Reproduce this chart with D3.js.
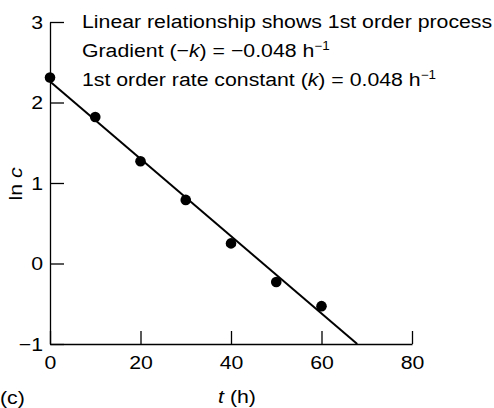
<!DOCTYPE html>
<html><head><meta charset="utf-8">
<script src="https://cdn.jsdelivr.net/npm/d3@7"></script>
<style>
body{margin:0;background:#fff;}
svg{display:block;font-family:"Liberation Sans",Arial,Helvetica,sans-serif;}
</style></head>
<body><svg id="c" width="494" height="408"></svg>
<script>
const times = [0, 10, 20, 30, 40, 50, 60];
const lnC = [2.31, 1.82, 1.27, 0.79, 0.25, -0.23, -0.53];
const fitIntercept = 2.26;
const fitSlope = -0.048;
const fitRange = [0, 67.9];
const xTicks = [0, 20, 40, 60, 80];
const yTicks = [3, 2, 1, 0, -1];
const notes = [
  [{t:"Linear relationship shows 1st order process"}],
  [{t:"Gradient ("},{t:"−"},{t:"k",i:true},{t:") = −0.048 h"},{t:"−1",sup:true}],
  [{t:"1st order rate constant ("},{t:"k",i:true},{t:") = 0.048 h"},{t:"−1",sup:true}]
];

const svg = d3.select("#c");
const x = d3.scaleLinear().domain([0, 80]).range([50, 412]);
const y = d3.scaleLinear().domain([-1, 3]).range([344, 22]);
const fs = 19;
const sx = 1.12; // horizontal stretch of the typeface

function label(sel, px, py, anchor) {
  // place a text at (px,py) with horizontal stretch
  return sel.attr("transform", `translate(${px},${py}) scale(${sx},1)`).attr("x", 0).attr("y", 0)
    .attr("text-anchor", anchor).attr("font-size", fs).attr("fill", "#000");
}

const xAxis = svg.append("g").attr("transform", `translate(0,${y(-1)})`)
  .call(d3.axisBottom(x).tickValues(xTicks).tickSizeInner(-13).tickSizeOuter(0).tickPadding(7).tickFormat(d3.format("d")));
const yAxis = svg.append("g").attr("transform", `translate(${x(0)},0)`)
  .call(d3.axisLeft(y).tickValues(yTicks).tickSizeInner(-14).tickSizeOuter(0).tickPadding(7)
    .tickFormat(d => d < 0 ? "−" + Math.abs(d) : d));
[xAxis, yAxis].forEach(g => {
  g.attr("font-size", null).attr("font-family", null);
  g.selectAll("path,line").attr("stroke", "#000").attr("stroke-width", 1.3);
  g.selectAll("text").attr("font-size", fs).attr("fill", "#000");
});
xAxis.selectAll("text").attr("y", 0).attr("dy", null).attr("transform", `translate(0,25) scale(${sx},1)`);
yAxis.selectAll("text").attr("x", 0).attr("transform", `translate(-7,0) scale(${sx},1)`);

// fit line
svg.append("line")
  .attr("x1", x(fitRange[0])).attr("y1", y(fitIntercept + fitSlope * fitRange[0]))
  .attr("x2", x(fitRange[1])).attr("y2", y(fitIntercept + fitSlope * fitRange[1]))
  .attr("stroke", "#000").attr("stroke-width", 2);

// points
svg.selectAll("circle.pt").data(times).enter().append("circle")
  .attr("class", "pt")
  .attr("cx", (d) => x(d)).attr("cy", (d, i) => y(lnC[i])).attr("r", 5.3).attr("fill", "#000");

// notes
notes.forEach((parts, li) => {
  const t = label(svg.append("text"), 82, 28 + li * 29, "start");
  parts.forEach(p => {
    const s = t.append("tspan").text(p.t);
    if (p.i) s.attr("font-style", "italic");
    if (p.sup) s.attr("font-size", 12).attr("dy", -7);
  });
});

// axis titles
svg.append("text").attr("transform", `translate(22,184) rotate(-90) scale(${sx},1)`).attr("text-anchor", "middle")
  .attr("font-size", fs).attr("fill", "#000")
  .call(t => { t.append("tspan").text("ln "); t.append("tspan").attr("font-style", "italic").text("c"); });
label(svg.append("text"), 237, 403, "middle")
  .call(t => { t.append("tspan").attr("font-style", "italic").text("t"); t.append("tspan").text(" (h)"); });
label(svg.append("text"), 0, 404, "start").text("(c)");
</script></body></html>
